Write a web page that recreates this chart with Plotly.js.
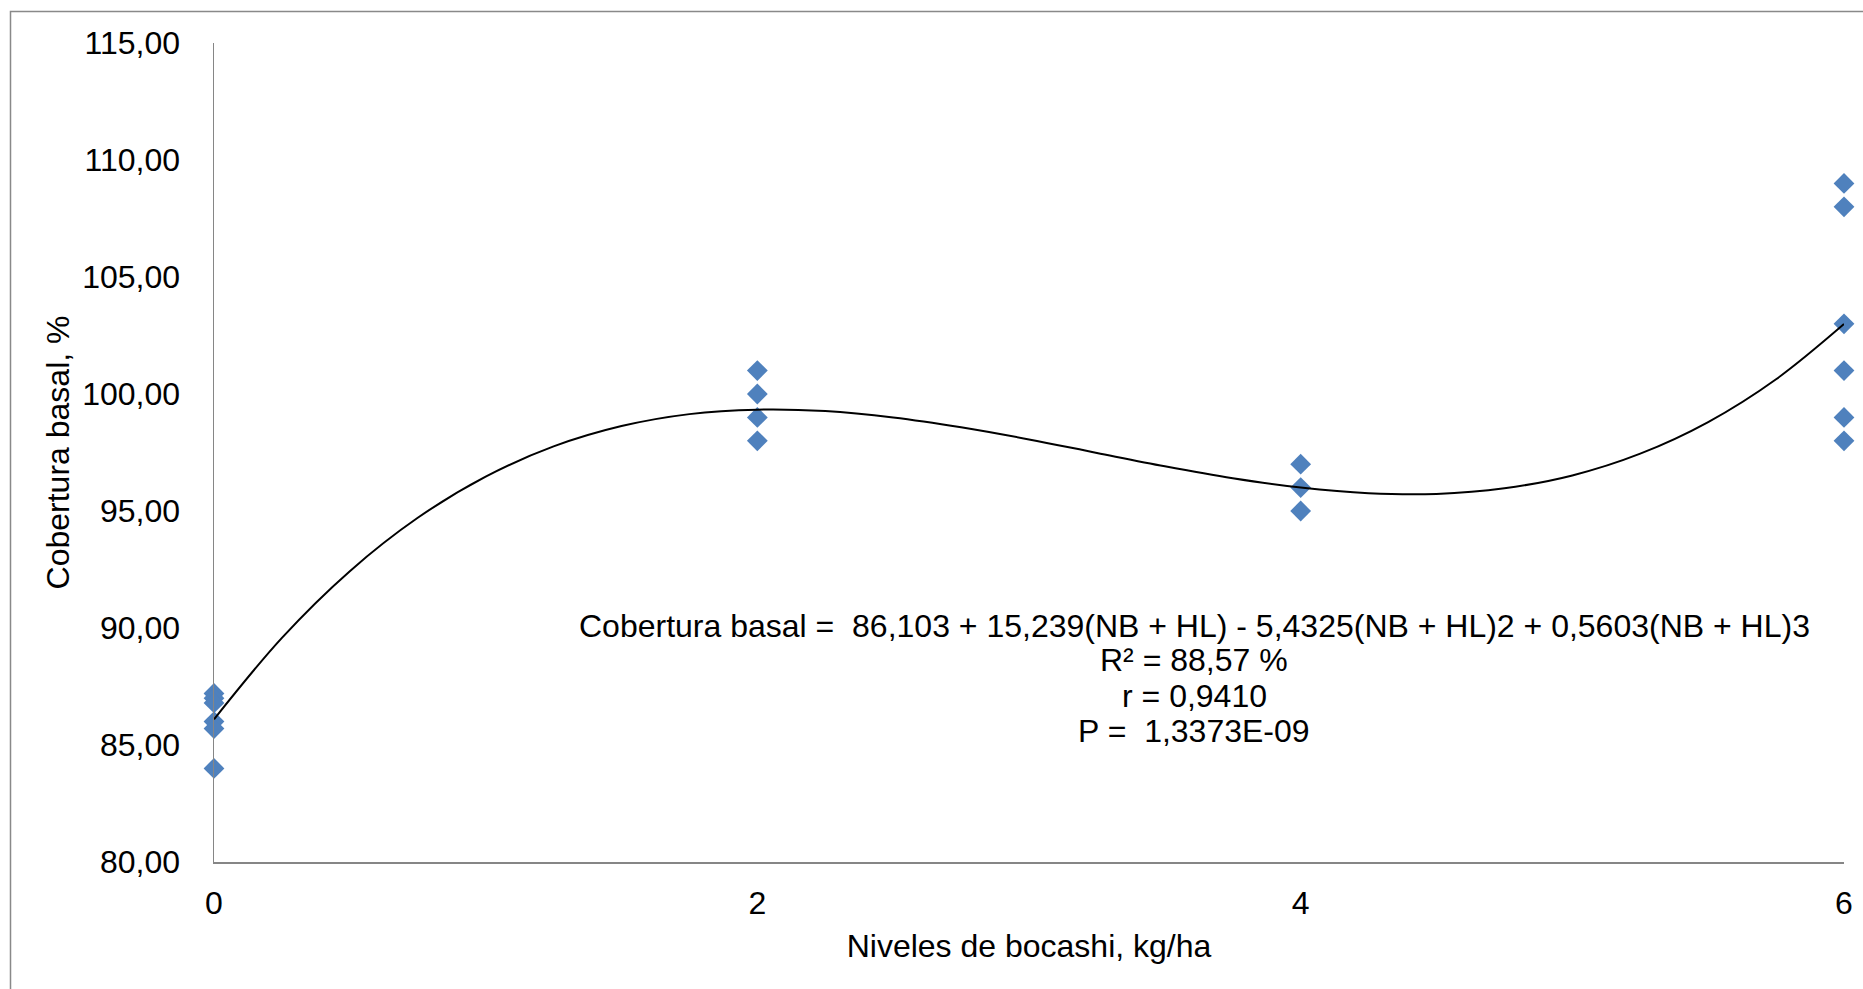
<!DOCTYPE html>
<html>
<head>
<meta charset="utf-8">
<script src="https://cdn.plot.ly/plotly-3.0.1.min.js"></script>
<style>
html,body{margin:0;padding:0;background:#fff;}
#chart{width:1863px;height:989px;}
</style>
</head>
<body>
<div id="chart"></div>
<script>
// ---- data ----
const nivelesX = [0,0,0,0,0,0, 2,2,2,2, 4,4,4, 6,6,6,6,6,6];
const cobertura = [87.2,87.0,86.8,86.0,85.7,84.0, 101,100,99,98, 97,96,95, 109,108,103,101,99,98];
// trendline (polynomial trend, order 3)
const trendX = [0,0.25,0.5,0.75,1,1.25,1.5,1.75,2,2.25,2.5,2.75,3,3.25,3.5,3.75,4,4.25,4.5,4.75,5,5.25,5.5,5.75,6];
const trendY = [86.10,89.58,92.43,94.71,96.47,97.76,98.63,99.14,99.33,99.27,99.00,98.58,98.06,97.48,96.91,96.40,96.00,95.76,95.73,95.97,96.52,97.45,98.80,100.63,102.99];
const xTicks = [0,2,4,6];
const yTicks = [80,85,90,95,100,105,110,115];
const eqLines = [
  "Cobertura basal =\u00A0 86,103 + 15,239(NB + HL) - 5,4325(NB + HL)2 + 0,5603(NB + HL)3",
  "R² = 88,57 %",
  "r = 0,9410",
  "P =\u00A0 1,3373E-09"
];

// ---- layout geometry (pixels) ----
const W = 1863, H = 989;
const mL = 214, mR = 19, mT = 43, mB = 127;
const pw = W - mL - mR, ph = H - mT - mB;
const px2x = p => (p - mL) / pw;
const py2y = p => (H - mB - p) / ph;
const eqCenterX = 1194;
const eqCenterY = [626, 660, 696, 731];

const font = "Liberation Sans, Arial, sans-serif";

const traces = [
  {
    x: nivelesX, y: cobertura, type: 'scatter', mode: 'markers',
    marker: {symbol: 'diamond', size: 16, color: '#4F81BD', line: {width: 0}},
    cliponaxis: false, showlegend: false, hoverinfo: 'x+y'
  },
  {
    x: trendX, y: trendY, type: 'scatter', mode: 'lines',
    line: {color: '#000000', width: 2, shape: 'spline', smoothing: 1},
    cliponaxis: false, showlegend: false, hoverinfo: 'skip'
  }
];

const annotations = eqLines.map((t, i) => ({
  text: t, xref: 'paper', yref: 'paper',
  x: px2x(eqCenterX), y: py2y(eqCenterY[i]),
  xanchor: 'center', yanchor: 'middle', showarrow: false,
  font: {family: font, size: 32, color: '#000'}
}));

const layout = {
  width: W, height: H,
  margin: {l: mL, r: mR, t: mT, b: mB, pad: 0},
  paper_bgcolor: '#fff', plot_bgcolor: '#fff',
  separators: ',.',
  font: {family: font, size: 32, color: '#000'},
  showlegend: false,
  xaxis: {
    range: [0, 6], tickvals: xTicks, ticktext: xTicks.map(String),
    showgrid: false, zeroline: false, showline: true,
    linecolor: '#868686', linewidth: 1.5, ticks: '',
    ticklabelstandoff: 12,
    tickfont: {family: font, size: 32, color: '#000'},
    title: {text: 'Niveles de bocashi, kg/ha', standoff: 14,
            font: {family: font, size: 32, color: '#000'}},
    automargin: false
  },
  yaxis: {
    range: [80, 115], tickvals: yTicks, tickformat: '.2f',
    showgrid: false, zeroline: false, showline: true,
    linecolor: '#868686', linewidth: 1.5, ticks: '',
    ticklabelstandoff: 26,
    tickfont: {family: font, size: 32, color: '#000'},
    title: {text: 'Cobertura basal, %', standoff: 3,
            font: {family: font, size: 32, color: '#000'}},
    automargin: false
  },
  annotations: annotations,
  shapes: [{
    type: 'rect', xref: 'paper', yref: 'paper',
    x0: px2x(10.5), x1: px2x(W + 20), y0: py2y(H + 20), y1: py2y(11.5),
    line: {color: '#898989', width: 1.5}, fillcolor: 'rgba(0,0,0,0)', layer: 'below'
  }]
};

Plotly.newPlot('chart', traces, layout, {displayModeBar: false, staticPlot: true});
</script>
</body>
</html>
